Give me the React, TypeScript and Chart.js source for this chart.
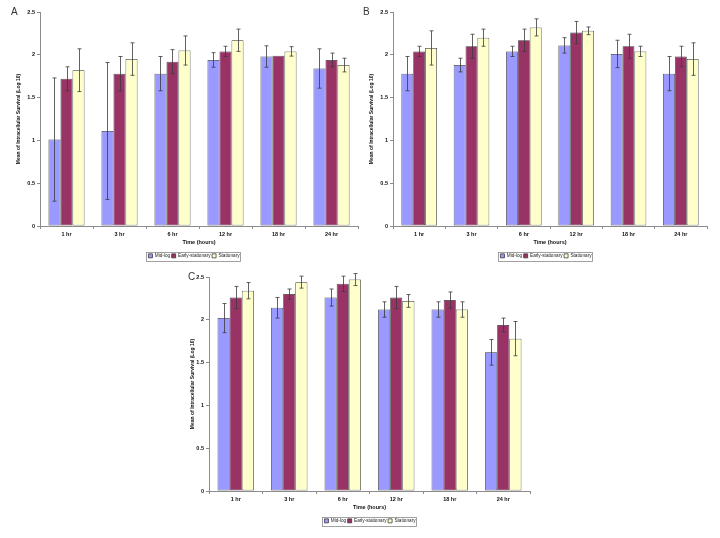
import React, { useEffect, useRef } from "react";
import { Chart, registerables } from "chart.js";

Chart.register(...registerables);

// ---------- data ----------
const categories = ["1 hr", "3 hr", "6 hr", "12 hr", "18 hr", "24 hr"];
const seriesNames = ["Mid-log", "Early-stationary", "Stationary"];
const seriesColors = ["#9999FF", "#993366", "#FFFFCC"];
const yTickValues = [0, 0.5, 1, 1.5, 2, 2.5];
const yAxisTitle = "Mean of Intracellular Survival (Log 10)";
const xAxisTitle = "Time (hours)";

// Panel A
const aMidLog = [1.01, 1.11, 1.78, 1.94, 1.98, 1.84];
const aMidLogErr = [0.72, 0.8, 0.2, 0.085, 0.125, 0.23];
const aEarly = [1.72, 1.78, 1.92, 2.04, 1.99, 1.94];
const aEarlyErr = [0.14, 0.2, 0.14, 0.06, 0, 0.08];
const aStat = [1.82, 1.95, 2.05, 2.17, 2.04, 1.88];
const aStatErr = [0.25, 0.19, 0.17, 0.13, 0.055, 0.08];

// Panel B
const bMidLog = [1.78, 1.88, 2.04, 2.11, 2.01, 1.78];
const bMidLogErr = [0.2, 0.08, 0.06, 0.09, 0.16, 0.2];
const bEarly = [2.04, 2.1, 2.17, 2.26, 2.1, 1.98];
const bEarlyErr = [0.06, 0.14, 0.13, 0.13, 0.14, 0.12];
const bStat = [2.08, 2.2, 2.32, 2.28, 2.04, 1.95];
const bStatErr = [0.2, 0.1, 0.1, 0.045, 0.06, 0.19];

// Panel C
const cMidLog = [2.02, 2.14, 2.26, 2.12, 2.12, 1.62];
const cMidLogErr = [0.17, 0.12, 0.1, 0.09, 0.09, 0.15];
const cEarly = [2.26, 2.3, 2.42, 2.26, 2.23, 1.94];
const cEarlyErr = [0.13, 0.06, 0.09, 0.13, 0.095, 0.08];
const cStat = [2.34, 2.44, 2.47, 2.22, 2.12, 1.78];
const cStatErr = [0.095, 0.07, 0.07, 0.075, 0.09, 0.2];

const FONT = "'Liberation Sans', Arial, sans-serif";

// ---------- plugins ----------
const errorBarPlugin = {
  id: "errorBars",
  afterDatasetsDraw(chart: any) {
    const ctx = chart.ctx;
    const y = chart.scales.y;
    ctx.save();
    ctx.strokeStyle = "#3a3a3a";
    ctx.lineWidth = 0.8;
    chart.data.datasets.forEach((ds: any, i: number) => {
      const meta = chart.getDatasetMeta(i);
      meta.data.forEach((bar: any, j: number) => {
        const v = ds.data[j];
        const e = ds.errors ? ds.errors[j] : 0;
        if (!e) return;
        const x = Math.round(bar.x) + 0.5;
        const top = y.getPixelForValue(v + e);
        const bot = y.getPixelForValue(v - e);
        ctx.beginPath();
        ctx.moveTo(x, top);
        ctx.lineTo(x, bot);
        ctx.moveTo(x - 2, top);
        ctx.lineTo(x + 2, top);
        ctx.moveTo(x - 2, bot);
        ctx.lineTo(x + 2, bot);
        ctx.stroke();
      });
    });
    ctx.restore();
  },
};

const legendFramePlugin = {
  id: "legendFrame",
  beforeInit(chart: any) {
    const lg = chart.legend;
    if (lg) {
      const origFit = lg.fit;
      lg.fit = function () {
        origFit.call(this);
        this.height = 18;
      };
    }
  },
  afterLayout(chart: any, _args: any, opts: any) {
    const lg = chart.legend;
    if (!lg || opts.centerX == null) return;
    const half = 150;
    lg.left = opts.centerX - half;
    lg.right = opts.centerX + half;
    lg.width = half * 2;
  },
  afterDraw(chart: any) {
    const lg = chart.legend;
    if (!lg || !lg.legendHitBoxes || !lg.legendHitBoxes.length) return;
    const hb = lg.legendHitBoxes;
    let minX = Infinity, maxX = -Infinity, minY = Infinity, maxY = -Infinity;
    hb.forEach((b: any) => {
      minX = Math.min(minX, b.left);
      maxX = Math.max(maxX, b.left + b.width);
      minY = Math.min(minY, b.top);
      maxY = Math.max(maxY, b.top + b.height);
    });
    const ctx = chart.ctx;
    ctx.save();
    ctx.strokeStyle = "#8a8a8a";
    ctx.lineWidth = 0.8;
    ctx.strokeRect(Math.round(minX - 2) + 0.5, Math.round(minY - 2) + 0.5, Math.round(maxX - minX + 3), Math.round(maxY - minY + 4));
    ctx.restore();
  },
};

// ---------- panel ----------
type PanelProps = {
  left: number;
  top: number;
  width: number;
  height: number;
  yWidth: number;
  yTitlePad: number;
  padRight: number;
  legendCenter: number;
  mid: number[];
  midErr: number[];
  early: number[];
  earlyErr: number[];
  stat: number[];
  statErr: number[];
};

function Panel(p: PanelProps) {
  const ref = useRef<HTMLCanvasElement | null>(null);
  useEffect(() => {
    if (!ref.current) return;
    const values = [p.mid, p.early, p.stat];
    const errs = [p.midErr, p.earlyErr, p.statErr];
    const chart = new Chart(ref.current, {
      type: "bar",
      data: {
        labels: categories,
        datasets: seriesNames.map((name, i) => ({
          label: name,
          data: values[i],
          errors: errs[i],
          backgroundColor: seriesColors[i],
          borderColor: "#333333",
          borderWidth: 0.75,
          borderSkipped: false,
          categoryPercentage: 0.68,
          barPercentage: 1.0,
        })) as any,
      },
      options: {
        animation: false,
        responsive: false,
        devicePixelRatio: 1,
        layout: { padding: { top: 12, right: p.padRight, left: 0, bottom: 0 } },
        plugins: {
          legendFrame: { centerX: p.legendCenter - p.left },
          legend: {
            position: "bottom",
            labels: {
              boxWidth: 4,
              boxHeight: 4,
              padding: 1.5,
              color: "#222",
              font: { family: FONT, size: 4.7 },
            },
          },
          tooltip: { enabled: false },
        },
        scales: {
          x: {
            grid: {
              offset: true,
              drawOnChartArea: false,
              drawTicks: true,
              tickLength: 3,
              color: "#8c8c8c",
            },
            border: { display: true, color: "#8c8c8c", width: 1 },
            ticks: {
              color: "#111",
              padding: 2,
              maxRotation: 0,
              autoSkip: false,
              font: { family: FONT, size: 5.5, weight: "bold" },
            },
            title: {
              display: true,
              text: xAxisTitle,
              color: "#111",
              padding: { top: 0, bottom: 6 },
              font: { family: FONT, size: 5.5, weight: "bold" },
            },
            afterFit(scale: any) {
              scale.height = 26;
            },
          },
          y: {
            min: 0,
            max: 2.5,
            afterBuildTicks(scale: any) {
              scale.ticks = yTickValues.map((v) => ({ value: v }));
            },
            grid: {
              drawOnChartArea: false,
              drawTicks: true,
              tickLength: 3,
              color: "#8c8c8c",
            },
            border: { display: true, color: "#8c8c8c", width: 1 },
            ticks: {
              color: "#111",
              padding: 2,
              callback: (v: any) => String(Number(v)),
              font: { family: FONT, size: 5.5, weight: "bold" },
            },
            title: {
              display: true,
              text: yAxisTitle,
              color: "#111",
              padding: { top: p.yTitlePad, bottom: 0 },
              font: { family: FONT, size: 5, weight: "bold" },
            },
            afterFit(scale: any) {
              scale.width = p.yWidth;
            },
          },
        },
      } as any,
      plugins: [errorBarPlugin, legendFramePlugin],
    });
    return () => chart.destroy();
  }, []);
  return (
    <canvas
      ref={ref}
      width={p.width}
      height={p.height}
      style={{ position: "absolute", left: p.left, top: p.top, width: p.width, height: p.height }}
    />
  );
}

const letterStyle = (left: number, top: number): React.CSSProperties => ({
  position: "absolute",
  left,
  top,
  fontFamily: FONT,
  fontSize: 10,
  lineHeight: "10px",
  color: "#333",
});

export default function App() {
  return (
    <div style={{ position: "absolute", left: 0, top: 0, width: 720, height: 538, background: "#fff", overflow: "hidden" }}>
      <Panel left={0} top={0} width={360} height={270} yWidth={40} yTitlePad={16} padRight={2} legendCenter={194}
        mid={aMidLog} midErr={aMidLogErr} early={aEarly} earlyErr={aEarlyErr} stat={aStat} statErr={aStatErr} />
      <Panel left={360} top={0} width={360} height={270} yWidth={33} yTitlePad={9} padRight={13} legendCenter={546}
        mid={bMidLog} midErr={bMidLogErr} early={bEarly} earlyErr={bEarlyErr} stat={bStat} statErr={bStatErr} />
      <Panel left={170} top={265} width={380} height={270} yWidth={39} yTitlePad={20} padRight={20} legendCenter={370}
        mid={cMidLog} midErr={cMidLogErr} early={cEarly} earlyErr={cEarlyErr} stat={cStat} statErr={cStatErr} />
      <div style={letterStyle(11, 7)}>A</div>
      <div style={letterStyle(363, 7)}>B</div>
      <div style={letterStyle(188, 272)}>C</div>
    </div>
  );
}
